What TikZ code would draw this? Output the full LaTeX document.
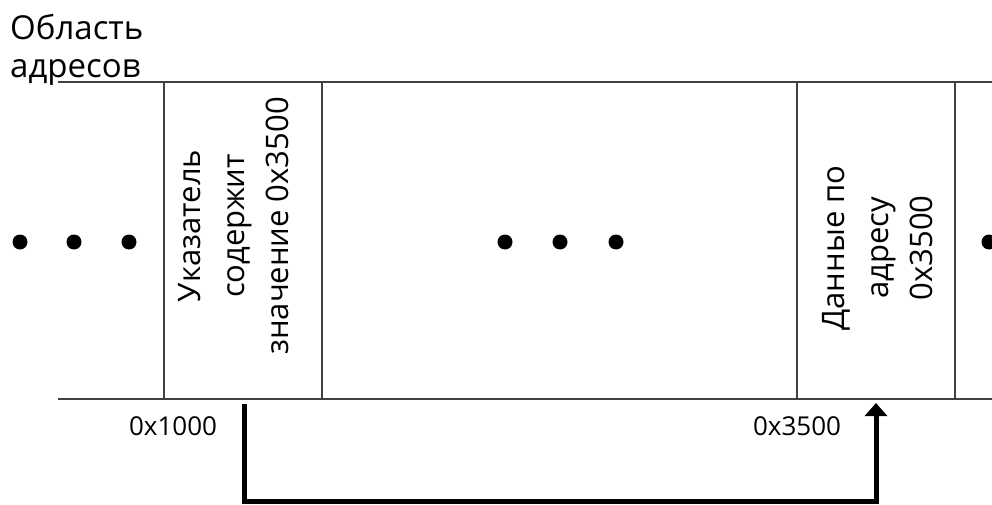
\documentclass[tikz,border=0pt]{standalone}
\usepackage{fontspec}
\setmainfont{Open Sans}
\usetikzlibrary{arrows.meta}
\tikzset{
  grid/.style={draw=black!75, line width=1.3pt},
  celltext/.style={rotate=90, align=center, font=\fontsize{31}{44}\selectfont, inner sep=0pt},
  addr/.style={font=\fontsize{26}{30}\selectfont, inner sep=0pt},
  title/.style={anchor=base west, font=\fontsize{33}{38}\selectfont, inner sep=0pt},
  dot/.style={circle, fill=black, minimum size=15pt, inner sep=0pt},
  ptr/.style={line width=5pt, -{Triangle[width=22pt,length=13pt]}}
}
\begin{document}
\begin{tikzpicture}[x=1pt,y=-1pt]
\useasboundingbox (0,0) rectangle (992,505);
% memory strip
\draw[grid] (58,82) -- (992,82);
\draw[grid] (58,399) -- (992,399);
\foreach \x in {164,322,797,955} \draw[grid] (\x,82) -- (\x,399);
% title
\node[title] (t1) at (10,40) {Область};
\node[title] (t2) at (10,78) {адресов};
% dots
\foreach \x/\n in {20/a,74/b,129/c,505/d,560/e,616/f,989/g}
  \node[dot] (dot\n) at (\x,242) {};
% cell texts
\node[celltext] (ptrtext) at (234,226) {Указатель\\содержит\\значение 0x3500};
\node[celltext] (datatext) at (878,248) {Данные по\\адресу\\0x3500};
% addresses
\node[addr] (a1) at (173,426) {0x1000};
\node[addr] (a2) at (797,426) {0x3500};
% pointer arrow
\coordinate (p1) at (244,404);
\coordinate (p2) at (876,403);
\coordinate (q) at (560,501);
\draw[ptr] (p1) |- (q) -| (p2);
\end{tikzpicture}
\end{document}
